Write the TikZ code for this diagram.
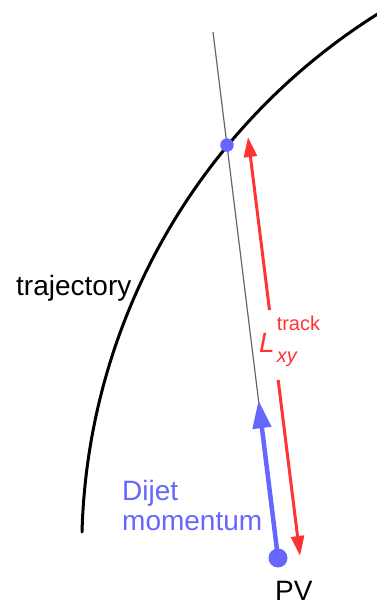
\documentclass[tikz,border=0pt]{standalone}
\usepackage{fontspec}
\setmainfont{Liberation Sans}
\usetikzlibrary{arrows.meta,calc}
\usepackage{xcolor}
\definecolor{dijetblue}{HTML}{6666FF}
\definecolor{lxyred}{HTML}{FF3333}

\begin{document}
\begin{tikzpicture}[
    x=1pt, y=-1pt,
    txt/.style={inner sep=0pt, font=\fontsize{28}{30}\selectfont},
    vertex/.style={circle, fill=dijetblue, inner sep=0pt},
    traj/.style={line width=3pt, line cap=round},
    dirline/.style={line width=1.2pt, black!60},
    momentum/.style={line width=4.5pt, dijetblue, -{Triangle[length=28pt, width=18pt]}},
    decaylen/.style={line width=3pt, lxyred, -{Triangle[length=20pt, width=13pt]}},
]
\useasboundingbox (0,0) rectangle (376,607);

% --- points ---
\coordinate (pv) at (278,558);
\coordinate (top) at (213,32);
\coordinate (tip) at ($(pv)!0.3!(top)$);
\coordinate (hit) at ($(pv)!0.785!(top)$);
\coordinate (ltop) at (248,137);
\coordinate (lbot) at (300,556);
\coordinate (gapA) at ($(ltop)!0.413!(lbot)$);
\coordinate (gapB) at ($(ltop)!0.58!(lbot)$);

% --- trajectory ---
\draw[traj] (82,532) arc[start angle=181.59, end angle=238.2, radius=632.7];

% --- direction and lengths ---
\draw[dirline] (pv) -- (top);
\draw[decaylen] (gapA) -- (ltop);
\draw[decaylen] (gapB) -- (lbot);
\draw[momentum] (pv) -- (tip);

\node[vertex, minimum size=19pt] (pvdot) at (pv) {};
\node[vertex, minimum size=13.5pt] (hitdot) at (hit) {};

% --- labels ---
\node[txt, anchor=base west] (trajlabel) at (16,295) {trajectory};
\node[txt, anchor=base west, align=left, text=dijetblue] (dijet) at (122,530) {Dijet\\momentum};
\node[txt, anchor=base west] (pvlabel) at (275,600) {PV};
\node[txt, anchor=base west, text=lxyred] (lxy) at (259,352)
    {\itshape L\hspace{2pt}\rlap{\raisebox{22pt}{\upshape\fontsize{20}{20}\selectfont track}}\raisebox{-10pt}{\fontsize{20}{20}\selectfont xy}};
\end{tikzpicture}
\end{document}
